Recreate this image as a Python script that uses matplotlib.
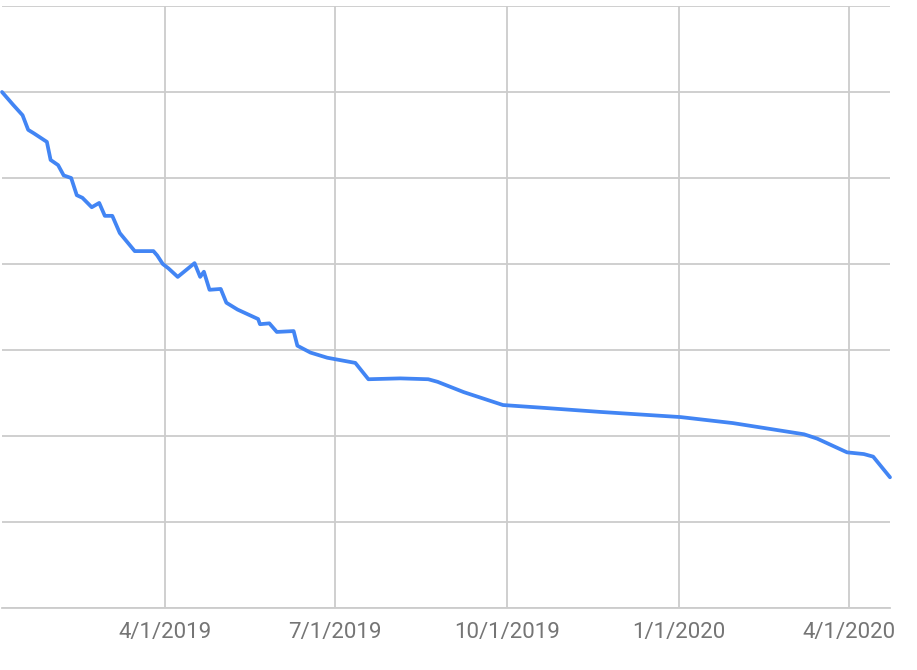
import matplotlib
matplotlib.use("Agg")
import matplotlib.pyplot as plt
import pandas as pd

dates = [
    "2019-01-04", "2019-01-10", "2019-01-15", "2019-01-18", "2019-01-21",
    "2019-01-28", "2019-01-30", "2019-02-03", "2019-02-06", "2019-02-10",
    "2019-02-13", "2019-02-16", "2019-02-21", "2019-02-25", "2019-02-28",
    "2019-03-04", "2019-03-08", "2019-03-16", "2019-03-26", "2019-03-28",
    "2019-03-31", "2019-04-03", "2019-04-08", "2019-04-17", "2019-04-20",
    "2019-04-22", "2019-04-25", "2019-05-01", "2019-05-04", "2019-05-10",
    "2019-05-21", "2019-05-22", "2019-05-27", "2019-05-31", "2019-06-09",
    "2019-06-11", "2019-06-18", "2019-06-27", "2019-07-12", "2019-07-19",
    "2019-08-05", "2019-08-20", "2019-08-25", "2019-09-08", "2019-09-29",
    "2019-10-19", "2019-11-20", "2020-01-02", "2020-01-30", "2020-03-08",
    "2020-03-15", "2020-03-31", "2020-04-09", "2020-04-14", "2020-04-23",
]
values = [
    6.00, 5.85, 5.73, 5.56, 5.52,
    5.42, 5.21, 5.15, 5.03, 5.00,
    4.80, 4.77, 4.66, 4.71, 4.56,
    4.56, 4.36, 4.15, 4.15, 4.10,
    4.00, 3.95, 3.85, 4.01, 3.85,
    3.91, 3.70, 3.71, 3.55, 3.47,
    3.36, 3.30, 3.31, 3.21, 3.22,
    3.05, 2.97, 2.91, 2.85, 2.66,
    2.67, 2.66, 2.63, 2.51, 2.36,
    2.33, 2.28, 2.22, 2.15, 2.02,
    1.97, 1.81, 1.79, 1.76, 1.52,
]
tick_dates = ["2019-04-01", "2019-07-01", "2019-10-01", "2020-01-01", "2020-04-01"]
tick_labels = ["4/1/2019", "7/1/2019", "10/1/2019", "1/1/2020", "4/1/2020"]
y_grid = [0, 1, 2, 3, 4, 5, 6, 7]

x = pd.to_datetime(dates)
W, H = 917, 670
fig = plt.figure(figsize=(W / 100, H / 100), dpi=100)
ax = fig.add_axes([2 / W, 1 - 608 / H, (890 - 2) / W, (608 - 6) / H])

ax.plot(x, values, color="#4285f4", lw=2.7, solid_joinstyle="round",
        solid_capstyle="round", zorder=3, clip_on=False)

ax.set_xlim(x[0], x[-1])
ax.set_ylim(y_grid[0], y_grid[-1])
ax.set_yticks(y_grid)
ax.set_yticklabels([])
ax.set_xticks(pd.to_datetime(tick_dates))
ax.set_xticklabels(tick_labels, fontfamily="Roboto", fontsize=16, color="#757575")
ax.tick_params(axis="both", length=0)
ax.tick_params(axis="x", pad=10)
ax.grid(True, color="#cccccc", lw=1.3, zorder=0)
for s in ["left", "right", "top"]:
    ax.spines[s].set_visible(False)
ax.spines["bottom"].set_color("#cccccc")
ax.spines["bottom"].set_linewidth(1.3)
ax.set_axisbelow(True)

fig.savefig("out.png", dpi=100)
